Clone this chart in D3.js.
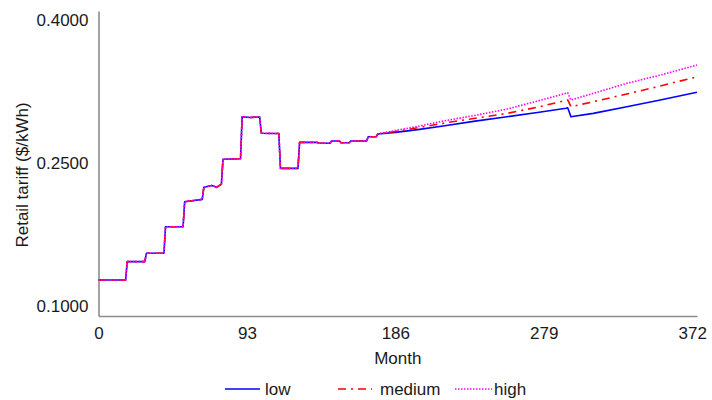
<!DOCTYPE html>
<html>
<head>
<meta charset="utf-8">
<script src="https://cdn.jsdelivr.net/npm/d3@7"></script>
<style>
  html, body { margin: 0; padding: 0; background: #fff; }
  text { font-family: "Liberation Sans", Arial, sans-serif; fill: #1a1a1a; }
</style>
</head>
<body>
<svg id="chart" width="712" height="400"></svg>
<script>
// Month index of each sampled point
const months = [0, 17, 18, 29, 30, 41, 42, 53, 54, 65, 66, 71, 74, 77, 78, 89, 90, 95, 101,
  102, 113, 114, 125, 126, 137, 138, 145, 146, 151, 152, 157, 158, 168, 169, 174, 175,
  186, 200, 217, 236, 256, 275, 293, 294, 296, 310, 331, 352, 375];

// Shared history up to month 174
const history = [0.1273, 0.1273, 0.1465, 0.1465, 0.1553, 0.1553, 0.1832, 0.1832, 0.2094, 0.2119,
  0.2245, 0.2265, 0.2245, 0.2278, 0.2539, 0.2545, 0.2986, 0.2978, 0.2983,
  0.2812, 0.2810, 0.2444, 0.2444, 0.2717, 0.2717, 0.2707, 0.2707, 0.2731, 0.2731, 0.2713, 0.2713,
  0.2731, 0.2731, 0.2776, 0.2776];

// Scenario projections from month 175
const lowProj    = [0.2804, 0.2822, 0.2850, 0.2891, 0.2940, 0.2986, 0.3030, 0.3074, 0.3080, 0.2986, 0.3021, 0.3091, 0.3161, 0.3242];
const mediumProj = [0.2806, 0.2830, 0.2870, 0.2920, 0.2970, 0.3021, 0.3085, 0.3158, 0.3162, 0.3091, 0.3143, 0.3224, 0.3308, 0.3405];
const highProj   = [0.2808, 0.2841, 0.2885, 0.2944, 0.3000, 0.3066, 0.3150, 0.3232, 0.3237, 0.3161, 0.3231, 0.3336, 0.3423, 0.3528];

const xTicks = [0, 93, 186, 279, 372];
const yTicks = [0.1, 0.25, 0.4];

const seriesNames  = ["low", "medium", "high"];
const seriesColors = ["#0000ff", "#ff0000", "#ff00ff"];
const seriesDashes = [null, "8,5,2,5", "1.5,1.5"];
const seriesValues = [history.concat(lowProj), history.concat(mediumProj), history.concat(highProj)];

const svg = d3.select("#chart");
const W = 712, H = 400;
const margin = { top: 11, right: 15, bottom: 84, left: 98.5 };

const x = d3.scaleLinear().domain([0, 375]).range([margin.left, W - margin.right]);
const y = d3.scaleLinear().domain([0.0895, 0.4095]).range([H - margin.bottom, margin.top]);

const fontSize = "17px";

// Axes
const xAxis = svg.append("g")
  .attr("transform", `translate(0,${H - margin.bottom})`)
  .call(d3.axisBottom(x).tickValues(xTicks).tickFormat(d3.format("d")).tickSize(0).tickPadding(11));
const yAxis = svg.append("g")
  .attr("transform", `translate(${margin.left},0)`)
  .call(d3.axisLeft(y).tickValues(yTicks).tickFormat(d3.format(".4f")).tickSize(0).tickPadding(10));

[xAxis, yAxis].forEach(g => {
  g.select(".domain").attr("stroke", "#8c8c8c").attr("stroke-width", 1.6);
  g.selectAll("text").attr("font-size", fontSize).attr("font-family", "Liberation Sans, Arial, sans-serif").attr("fill", "#1a1a1a");
});

// Axis titles
svg.append("text")
  .attr("x", (x.range()[0] + x.range()[1]) / 2)
  .attr("y", 364)
  .attr("text-anchor", "middle")
  .attr("font-size", fontSize)
  .text("Month");

svg.append("text")
  .attr("transform", `translate(28,175) rotate(-90)`)
  .attr("text-anchor", "middle")
  .attr("font-size", fontSize)
  .text("Retail tariff ($/kWh)");

// Series lines
const line = d3.line()
  .x((d, i) => x(months[i]))
  .y(d => y(d));

seriesValues.forEach((vals, k) => {
  svg.append("path")
    .datum(vals)
    .attr("fill", "none")
    .attr("stroke", seriesColors[k])
    .attr("stroke-width", 1.6)
    .attr("stroke-dasharray", seriesDashes[k])
    .attr("stroke-linejoin", "round")
    .attr("d", line);
});

// Legend
const legendItems = [
  { x1: 225, x2: 260, tx: 265 },
  { x1: 338, x2: 372, tx: 380 },
  { x1: 455, x2: 492, tx: 494 }
];
const legend = svg.append("g");
legendItems.forEach((it, k) => {
  legend.append("line")
    .attr("x1", it.x1).attr("x2", it.x2)
    .attr("y1", 389).attr("y2", 389)
    .attr("stroke", seriesColors[k])
    .attr("stroke-width", k === 0 ? 1.6 : 1.6)
    .attr("stroke-dasharray", seriesDashes[k]);
  legend.append("text")
    .attr("x", it.tx).attr("y", 395)
    .attr("font-size", fontSize)
    .text(seriesNames[k]);
});
</script>
</body>
</html>
